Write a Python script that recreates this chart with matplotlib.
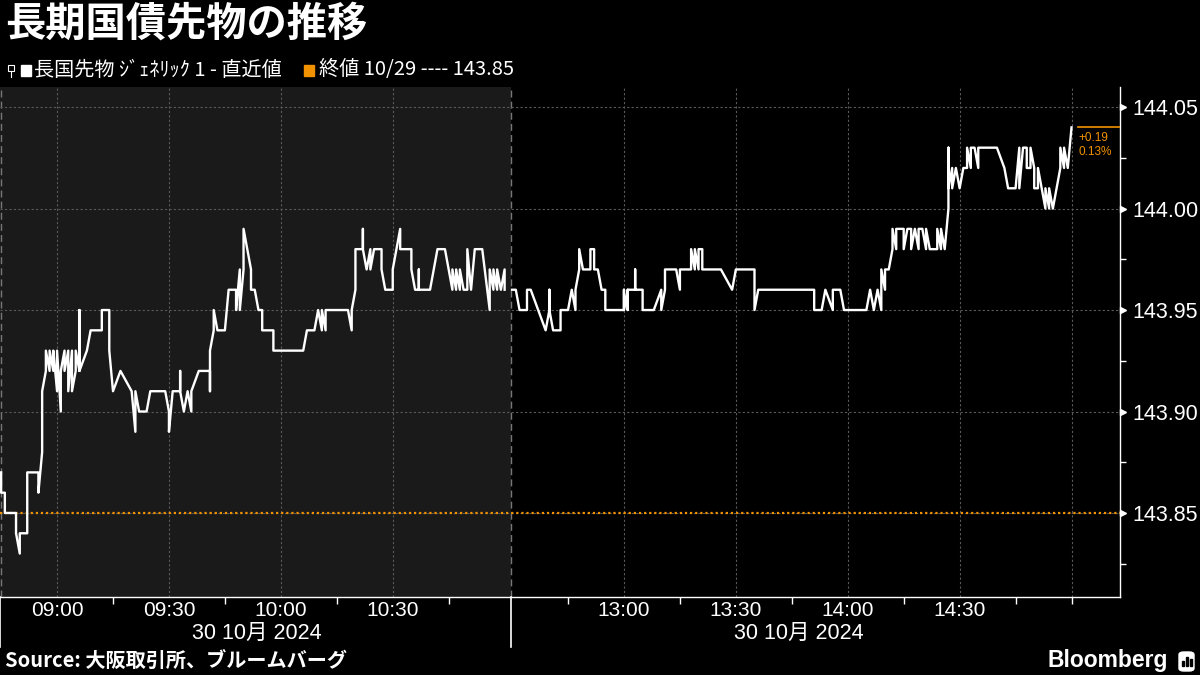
#30 Oct 2024 - JGB futures intraday
import matplotlib
matplotlib.use("Agg")
import matplotlib.pyplot as plt
from matplotlib import transforms
from matplotlib.patches import Rectangle, FancyBboxPatch
from matplotlib.lines import Line2D

# prices (morning / afternoon session)
am_times = ["8:45", "8:45", "8:46", "8:46", "8:49", "8:49", "8:50", "8:50", "8:52", "8:52",
            "8:52", "8:55", "8:55", "8:56", "8:56", "8:57", "8:57", "8:58", "8:58", "8:59",
            "8:59", "9:00", "9:00", "9:01", "9:01", "9:02", "9:02", "9:03", "9:03", "9:04",
            "9:04", "9:05", "9:05", "9:06", "9:06", "9:06", "9:08", "9:09", "9:12", "9:12",
            "9:14", "9:14", "9:15", "9:17", "9:20", "9:21", "9:21", "9:22", "9:24", "9:25",
            "9:29", "9:30", "9:30", "9:31", "9:33", "9:33", "9:33", "9:34", "9:35", "9:36",
            "9:36", "9:38", "9:41", "9:41", "9:41", "9:42", "9:42", "9:43", "9:45", "9:46",
            "9:48", "9:48", "9:49", "9:49", "9:50", "9:50", "9:51", "9:52", "9:52", "9:53",
            "9:54", "9:55", "9:55", "9:58", "9:58", "10:06", "10:07", "10:09", "10:10", "10:11",
            "10:11", "10:12", "10:12", "10:18", "10:19", "10:19", "10:20", "10:20", "10:22", "10:22",
            "10:22", "10:23", "10:24", "10:24", "10:25", "10:27", "10:27", "10:28", "10:30", "10:30",
            "10:31", "10:32", "10:32", "10:35", "10:35", "10:36", "10:37", "10:37", "10:37", "10:40",
            "10:41", "10:42", "10:44", "10:45", "10:46", "10:46", "10:47", "10:47", "10:48", "10:48",
            "10:49", "10:50", "10:50", "10:51", "10:52", "10:54", "10:56", "10:56", "10:57", "10:57",
            "10:58", "10:58", "10:59", "11:00", "11:00"]
am_prices = [143.87, 143.86, 143.86, 143.85, 143.85, 143.84, 143.83, 143.84, 143.84, 143.86,
             143.87, 143.87, 143.86, 143.88, 143.91, 143.92, 143.93, 143.92, 143.93, 143.92,
             143.93, 143.91, 143.93, 143.90, 143.92, 143.93, 143.92, 143.93, 143.91, 143.93,
             143.91, 143.92, 143.93, 143.92, 143.95, 143.92, 143.93, 143.94, 143.94, 143.95,
             143.95, 143.93, 143.91, 143.92, 143.91, 143.89, 143.91, 143.90, 143.90, 143.91,
             143.91, 143.90, 143.89, 143.91, 143.91, 143.92, 143.91, 143.90, 143.91, 143.90,
             143.91, 143.92, 143.92, 143.91, 143.93, 143.94, 143.95, 143.94, 143.94, 143.96,
             143.96, 143.95, 143.97, 143.95, 143.97, 143.99, 143.98, 143.97, 143.96, 143.96,
             143.95, 143.95, 143.94, 143.94, 143.93, 143.93, 143.94, 143.94, 143.95, 143.94,
             143.95, 143.94, 143.95, 143.95, 143.94, 143.95, 143.96, 143.98, 143.98, 143.99,
             143.98, 143.97, 143.98, 143.97, 143.98, 143.98, 143.97, 143.96, 143.96, 143.97,
             143.98, 143.99, 143.98, 143.98, 143.97, 143.96, 143.96, 143.97, 143.96, 143.96,
             143.97, 143.98, 143.98, 143.97, 143.96, 143.97, 143.96, 143.97, 143.96, 143.97,
             143.96, 143.96, 143.98, 143.96, 143.98, 143.98, 143.95, 143.97, 143.96, 143.97,
             143.96, 143.97, 143.96, 143.97, 143.96]

pm_times = ["12:30", "12:31", "12:32", "12:34", "12:34", "12:35", "12:37", "12:39", "12:40", "12:40",
            "12:40", "12:41", "12:43", "12:43", "12:45", "12:46", "12:47", "12:47", "12:48", "12:48",
            "12:49", "12:51", "12:51", "12:52", "12:52", "12:53", "12:54", "12:55", "12:55", "13:00",
            "13:00", "13:00", "13:01", "13:01", "13:01", "13:03", "13:03", "13:03", "13:05", "13:05",
            "13:08", "13:10", "13:10", "13:11", "13:11", "13:14", "13:15", "13:15", "13:18", "13:18",
            "13:19", "13:19", "13:20", "13:20", "13:21", "13:21", "13:26", "13:29", "13:30", "13:35",
            "13:35", "13:36", "13:51", "13:51", "13:53", "13:54", "13:56", "13:56", "13:58", "13:59",
            "14:05", "14:06", "14:07", "14:08", "14:09", "14:09", "14:10", "14:10", "14:11", "14:12",
            "14:12", "14:13", "14:13", "14:15", "14:15", "14:16", "14:17", "14:17", "14:18", "14:19",
            "14:19", "14:20", "14:21", "14:21", "14:22", "14:24", "14:24", "14:25", "14:25", "14:26",
            "14:27", "14:27", "14:27", "14:28", "14:28", "14:29", "14:30", "14:31", "14:32", "14:32",
            "14:33", "14:33", "14:34", "14:35", "14:35", "14:40", "14:42", "14:43", "14:45", "14:46",
            "14:46", "14:47", "14:48", "14:48", "14:49", "14:49", "14:50", "14:50", "14:51", "14:51",
            "14:52", "14:53", "14:53", "14:54", "14:54", "14:55", "14:56", "14:57", "14:57", "14:58",
            "14:58", "14:59", "15:00"]
pm_prices = [143.96, 143.96, 143.95, 143.95, 143.96, 143.96, 143.95, 143.94, 143.95, 143.96,
             143.95, 143.94, 143.94, 143.95, 143.95, 143.96, 143.95, 143.96, 143.97, 143.98,
             143.97, 143.97, 143.98, 143.98, 143.97, 143.97, 143.96, 143.96, 143.95, 143.95,
             143.96, 143.95, 143.96, 143.95, 143.96, 143.96, 143.97, 143.96, 143.96, 143.95,
             143.95, 143.96, 143.95, 143.96, 143.97, 143.97, 143.96, 143.97, 143.97, 143.98,
             143.97, 143.98, 143.97, 143.98, 143.98, 143.97, 143.97, 143.96, 143.97, 143.97,
             143.95, 143.96, 143.96, 143.95, 143.95, 143.96, 143.95, 143.96, 143.96, 143.95,
             143.95, 143.96, 143.95, 143.96, 143.95, 143.97, 143.96, 143.97, 143.97, 143.98,
             143.99, 143.98, 143.99, 143.99, 143.98, 143.99, 143.99, 143.98, 143.99, 143.98,
             143.99, 143.99, 143.98, 143.99, 143.98, 143.98, 143.99, 143.98, 143.99, 143.98,
             144.00, 144.03, 144.01, 144.02, 144.01, 144.02, 144.01, 144.02, 144.02, 144.03,
             144.02, 144.03, 144.03, 144.02, 144.03, 144.03, 144.02, 144.01, 144.01, 144.03,
             144.01, 144.03, 144.03, 144.02, 144.02, 144.03, 144.02, 144.01, 144.01, 144.02,
             144.01, 144.00, 144.01, 144.00, 144.01, 144.00, 144.01, 144.02, 144.03, 144.02,
             144.03, 144.02, 144.04]

prev_close = 143.85
prev_date = "10/29"
label_times = ["9:00", "9:30", "10:00", "10:30", "13:00", "13:30", "14:00", "14:30"]
label_text = ["09:00", "09:30", "10:00", "10:30", "13:00", "13:30", "14:00", "14:30"]
grid_times = label_times + ["15:00"]
minor_times = ["9:15", "9:45", "10:15", "10:45", "12:45", "13:15", "13:45", "14:15", "14:45", "15:00"]
yticks = [143.85, 143.90, 143.95, 144.00, 144.05]
date_label = "30 10月 2024"

ORANGE = "#f39200"
SHADE = "#1a1a1a"
GRID = "#5a5a5a"
CJK = ["Noto Sans CJK JP", "DejaVu Sans"]
plt.rcParams["font.family"] = ["Liberation Sans", "Noto Sans CJK JP", "DejaVu Sans"]

AM_LEN = 137  # 08:45 -> 11:02, afternoon glued right after


def pos(t):
    h, mi = map(int, t.split(":"))
    tot = h * 60 + mi
    if tot < 12 * 60:
        return tot - (8 * 60 + 45)
    return AM_LEN + tot - (12 * 60 + 30)


fig = plt.figure(figsize=(12, 6.75), dpi=100, facecolor="black")
ax = fig.add_axes([0, 78 / 675, 1120 / 1200, 510 / 675], facecolor="black")
xmax = 300
ax.set_xlim(-0.3, xmax)
ax.set_ylim(143.8086, 144.0599)

ax.axvspan(-0.3, AM_LEN - 0.3, color=SHADE, zorder=0, lw=0)
for m in [0, AM_LEN - 0.3]:
    ax.axvline(m, color="#777777", lw=1, ls=(0, (5, 3)), zorder=1)
for t in grid_times:
    ax.axvline(pos(t), color=GRID, lw=0.8, ls=(0, (2, 2)), zorder=1)
for v in yticks:
    ax.axhline(v, color=GRID, lw=0.8, ls=(0, (2, 2)), zorder=1)
ax.axhline(prev_close, color=ORANGE, lw=1.6, ls=(0, (1, 1.3)), zorder=2)

ax.plot([pos(t) for t in am_times], am_prices, color="white", lw=1.7, zorder=3)
ax.plot([pos(t) for t in pm_times], pm_prices, color="white", lw=1.7, zorder=3)

# last value marker line + change
last = pm_prices[-1]
last_m = pos(pm_times[-1])
chg = last - prev_close
ax.plot([last_m + 1.8, xmax], [last, last], color=ORANGE, lw=1.2, zorder=3)
ax.annotate("%+.2f\n%.2f%%" % (chg, chg / prev_close * 100), xy=(last_m + 1.8, last),
            xytext=(0, -3), textcoords="offset points", va="top", ha="left",
            color=ORANGE, fontsize=8.5, linespacing=1.25)

# axes styling
for s in ["left", "top"]:
    ax.spines[s].set_visible(False)
for s in ["right", "bottom"]:
    ax.spines[s].set_color("white")
    ax.spines[s].set_linewidth(1)

ax.yaxis.tick_right()
ax.set_yticks(yticks)
ax.set_yticklabels(["%.2f" % v for v in yticks])
ax.set_yticks([v + 0.025 for v in yticks[:-1]] + [yticks[0] - 0.025], minor=True)
ax.tick_params(axis="y", which="major", length=0, pad=9, labelsize=15.5, labelcolor="white")
ax.tick_params(axis="y", which="minor", length=4, width=1, color="white", direction="out")
tri = transforms.blended_transform_factory(ax.transAxes, ax.transData)
ax.plot([1.003] * len(yticks), yticks, ls="none", marker=">", ms=5, color="white",
        transform=tri, clip_on=False)

ax.set_xticks([pos(t) for t in label_times])
ax.set_xticklabels(label_text)
ax.set_xticks([pos(t) for t in minor_times], minor=True)
ax.tick_params(axis="x", which="major", length=0, pad=3, labelsize=15, labelcolor="white")
ax.tick_params(axis="x", which="minor", length=5, width=1, color="white", direction="out")

bt = transforms.blended_transform_factory(ax.transData, ax.transAxes)
ax.text(AM_LEN / 2, -0.071, date_label, transform=bt, ha="center", va="center",
        color="white", fontsize=15.5)
ax.text(214, -0.071, date_label, transform=bt, ha="center", va="center",
        color="white", fontsize=15.5)
for m in [-0.2, AM_LEN - 0.3]:
    ax.plot([m, m], [0, -0.098], transform=bt, color="white", lw=1.2, clip_on=False)

# header
fig.text(0.004, 0.965, "長期国債先物の推移", fontsize=29, weight="bold", color="white",
         va="center", ha="left", family=CJK)
fig.add_artist(Rectangle((8 / 1200, 604 / 675), 6 / 1200, 6 / 675, fill=False,
                         ec="white", lw=0.8, transform=fig.transFigure))
fig.add_artist(Line2D([11 / 1200, 11 / 1200], [604 / 675, 598 / 675], color="white",
                      lw=0.8, transform=fig.transFigure))
fig.add_artist(Rectangle((21 / 1200, 599 / 675), 10 / 1200, 11 / 675, color="white",
                         transform=fig.transFigure))
fig.text(34 / 1200, 605 / 675, "長国先物 ｼﾞｪﾈﾘｯｸ 1 - 直近値", fontsize=14.5, color="white",
         va="center", ha="left", family=CJK)
fig.add_artist(Rectangle((304 / 1200, 599 / 675), 10 / 1200, 11 / 675, color=ORANGE,
                         transform=fig.transFigure))
fig.text(319 / 1200, 605 / 675, "終値 %s ---- %.2f" % (prev_date, prev_close), fontsize=14.5,
         color="white", va="center", ha="left", family=CJK)

# footer
fig.text(5 / 1200, 14 / 675, "Source: 大阪取引所、ブルームバーグ", fontsize=14.5, weight="bold",
         color="white", va="center", ha="left", family=CJK)
fig.text(1168 / 1200, 14 / 675, "Bloomberg", fontsize=16.5, weight="bold", color="white",
         va="center", ha="right")
fig.add_artist(FancyBboxPatch((1179 / 1200, 4 / 675), 15 / 1200, 19 / 675,
                              boxstyle="round,pad=0,rounding_size=0.004", color="white",
                              transform=fig.transFigure))
for i, hgt in enumerate([5, 9, 7]):
    fig.add_artist(Rectangle(((1182 + i * 4) / 1200, 9 / 675), 2 / 1200, hgt / 675,
                             color="black", transform=fig.transFigure))

fig.savefig("out.png", dpi=100, facecolor="black")
